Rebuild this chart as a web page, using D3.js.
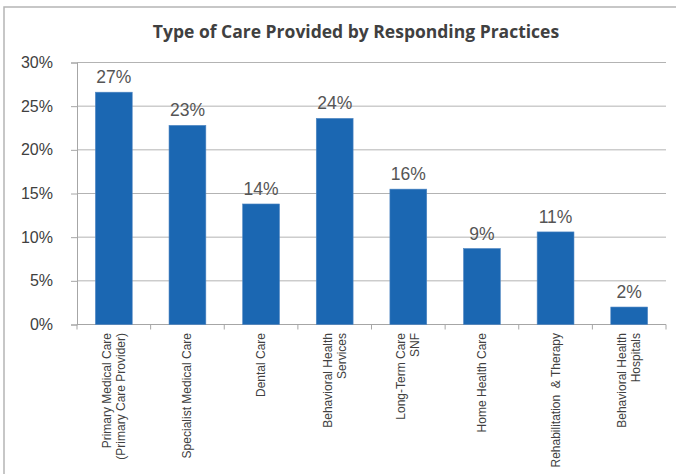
<!DOCTYPE html>
<html>
<head>
<meta charset="utf-8">
<script src="https://cdn.jsdelivr.net/npm/d3@7"></script>
<style>
  html, body { margin: 0; padding: 0; background: #fff; }
  svg { display: block; }
</style>
</head>
<body>
<svg id="chart" width="676" height="474"></svg>
<script>
// Share of responding practices providing each type of care (percent)
const categories = [
  ["Primary Medical Care", "(Primary Care Provider)"],
  ["Specialist Medical Care"],
  ["Dental Care"],
  ["Behavioral Health", "Services"],
  ["Long-Term Care", "SNF"],
  ["Home Health Care"],
  ["Rehabilitation  & Therapy"],
  ["Behavioral Health", "Hospitals"]
];
const values = [26.6, 22.8, 13.8, 23.6, 15.5, 8.7, 10.6, 2.0];
const yTicks = [0, 5, 10, 15, 20, 25, 30];
const title = "Type of Care Provided by Responding Practices";

const svg = d3.select("#chart");
const W = 676, H = 474;
const margin = { top: 62.5, right: 10, bottom: 149.5, left: 77 };
const innerW = W - margin.left - margin.right;
const innerH = H - margin.top - margin.bottom;

// outer frame (top and left edges)
svg.append("path")
  .attr("d", `M4,${H} V7 H${W}`)
  .attr("fill", "none")
  .attr("stroke", "#b5b5b5")
  .attr("stroke-width", 1.5);

svg.append("text")
  .attr("x", 356)
  .attr("y", 37.5)
  .attr("text-anchor", "middle")
  .attr("font-family", "'Open Sans', sans-serif")
  .attr("font-weight", 700)
  .attr("font-size", 17.5)
  .attr("fill", "#404040")
  .text(title);

const g = svg.append("g").attr("transform", `translate(${margin.left},${margin.top})`);

const x = d3.scaleBand()
  .domain(d3.range(categories.length))
  .range([0, innerW])
  .paddingInner(0.5)
  .paddingOuter(0.25);

const y = d3.scaleLinear().domain([0, 30]).range([innerH, 0]);

// horizontal gridlines
g.append("g")
  .selectAll("line")
  .data(yTicks.filter(t => t > 0))
  .join("line")
  .attr("x1", 0).attr("x2", innerW)
  .attr("y1", d => y(d)).attr("y2", d => y(d))
  .attr("stroke", "#b3b3b3")
  .attr("stroke-width", 1);

// y axis
const yAxis = g.append("g")
  .call(d3.axisLeft(y).tickValues(yTicks).tickFormat(d => d + "%").tickSize(6).tickPadding(18));
yAxis.select(".domain").attr("stroke", "#a6a6a6");
yAxis.selectAll(".tick line").attr("stroke", "#a6a6a6");
yAxis.selectAll(".tick text")
  .attr("font-family", "'Liberation Sans', Arial, sans-serif")
  .attr("font-size", 16)
  .attr("fill", "#404040");

// x axis with ticks at band boundaries
const boundaries = d3.range(categories.length + 1).map(i => i * x.step());
const xBase = g.append("g").attr("transform", `translate(0,${innerH})`);
xBase.append("line")
  .attr("x1", 0).attr("x2", innerW)
  .attr("stroke", "#a6a6a6");
xBase.selectAll("line.tk")
  .data(boundaries)
  .join("line")
  .attr("class", "tk")
  .attr("x1", d => d).attr("x2", d => d)
  .attr("y1", 0).attr("y2", 5)
  .attr("stroke", "#a6a6a6");

// bars
g.selectAll("rect.bar")
  .data(values)
  .join("rect")
  .attr("class", "bar")
  .attr("x", (d, i) => x(i))
  .attr("width", x.bandwidth())
  .attr("y", d => y(d))
  .attr("height", d => innerH - y(d))
  .attr("fill", "#1b67b2")
  .attr("stroke", "#4f86c2")
  .attr("stroke-width", 0.6);

// value labels
g.selectAll("text.val")
  .data(values)
  .join("text")
  .attr("class", "val")
  .attr("x", (d, i) => x(i) + x.bandwidth() / 2)
  .attr("y", d => y(d) - 9)
  .attr("text-anchor", "middle")
  .attr("font-family", "'Liberation Sans', Arial, sans-serif")
  .attr("font-size", 17.5)
  .attr("fill", "#555")
  .text(d => Math.round(d) + "%");

// rotated category labels
const lineH = 14;
const catG = g.selectAll("g.cat")
  .data(categories)
  .join("g")
  .attr("class", "cat")
  .attr("transform", (d, i) => `translate(${x(i) + x.bandwidth() / 2},${innerH + 8.5}) rotate(-90)`);
catG.each(function(lines) {
  const t = d3.select(this).append("text")
    .attr("text-anchor", "end")
    .attr("font-family", "'Liberation Sans', Arial, sans-serif")
    .attr("font-size", 12)
    .attr("fill", "#404040");
  const off = -(lines.length - 1) * lineH / 2;
  lines.forEach((ln, k) => {
    t.append("tspan")
      .attr("x", 0)
      .attr("y", off + k * lineH + 4)
      .style("white-space", "pre")
      .text(ln);
  });
});
</script>
</body>
</html>
